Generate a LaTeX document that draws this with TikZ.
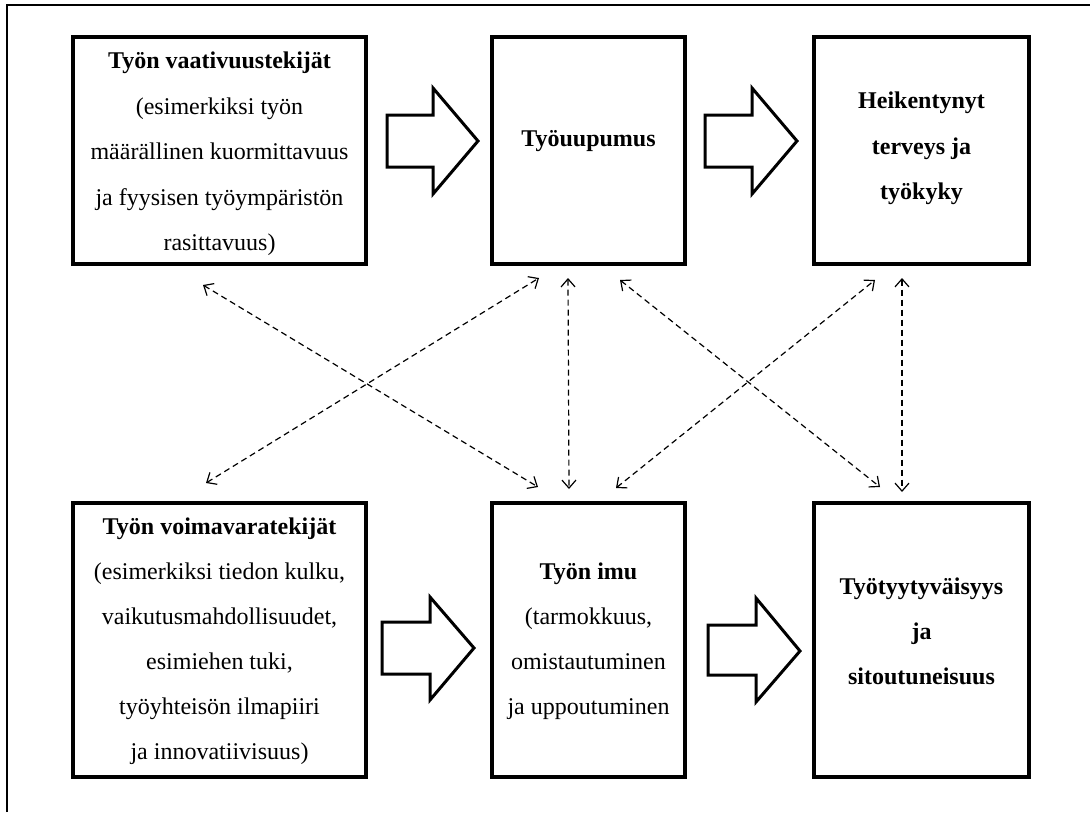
\documentclass[tikz,border=0pt]{standalone}
\usepackage{fontspec}
\setmainfont{Liberation Serif}
\usetikzlibrary{arrows.meta}
\begin{document}
\begin{tikzpicture}[x=1pt,y=-1pt,
  box/.style={draw, line width=4pt, inner sep=0pt, minimum height=227pt},
  lowbox/.style={box, minimum height=274pt},
  txt/.style={inner sep=0pt, align=center, anchor=north, font=\fontsize{24pt}{45.5pt}\selectfont},
  txtb/.style={txt, font=\fontsize{24pt}{45pt}\selectfont},
  bigarrow/.style={draw, line width=3pt, miter limit=20, fill=white},
  link/.style={dash pattern=on 6pt off 4pt, line width=1.2pt,
    {Straight Barb[length=8pt,width=14pt]}-{Straight Barb[length=8pt,width=14pt]}}]
\useasboundingbox (0,0) rectangle (1090,812);
% outer frame (cut off at right and bottom)
\draw[line width=2pt] (7,812) -- (7,5) -- (1090,5);
% boxes
\node[box, minimum width=293pt] (b1) at (219.5,150.5) {};
\node[box, minimum width=193pt] (b2) at (588.5,150.5) {};
\node[box, minimum width=215pt] (b3) at (921.5,150.5) {};
\node[lowbox, minimum width=293pt] (b4) at (219.5,640) {};
\node[lowbox, minimum width=193pt] (b5) at (588.5,640) {};
\node[lowbox, minimum width=215pt] (b6) at (921.5,640) {};
% texts
\node[txt] (t1) at (219.5,52) {\textbf{Työn vaativuustekijät}\\(esimerkiksi työn\\määrällinen kuormittavuus\\ja fyysisen työympäristön\\rasittavuus)};
\node[txt, anchor=center] (t2) at (588.5,141) {\textbf{Työuupumus}};
\node[txt] (t3) at (921.5,92) {\textbf{Heikentynyt}\\\textbf{terveys ja}\\\textbf{työkyky}};
\node[txtb] (t4) at (219.5,518) {\textbf{Työn voimavaratekijät}\\(esimerkiksi tiedon kulku,\\vaikutusmahdollisuudet,\\esimiehen tuki,\\työyhteisön ilmapiiri\\ja innovatiivisuus)};
\node[txtb] (t5) at (588.5,563) {\textbf{Työn imu}\\(tarmokkuus,\\omistautuminen\\ja uppoutuminen};
\node[txtb] (t6) at (921.5,578) {\textbf{Työtyytyväisyys}\\\textbf{ja}\\\textbf{sitoutuneisuus}};
% block arrows
\draw[bigarrow] (387,115) -- (433,115) -- (433,88) -- (478,141) -- (433,194) -- (433,167) -- (387,167) -- cycle;
\draw[bigarrow] (705,115) -- (752,115) -- (752,88) -- (797,141) -- (752,194) -- (752,167) -- (705,167) -- cycle;
\draw[bigarrow] (382,622) -- (430,622) -- (430,597) -- (474,648) -- (430,700) -- (430,674) -- (382,674) -- cycle;
\draw[bigarrow] (708,625) -- (756,625) -- (756,598) -- (800,651) -- (756,702) -- (756,675) -- (708,675) -- cycle;
% dashed link end points
\coordinate (a1) at (203,285);
\coordinate (a2) at (538,487);
\coordinate (c1) at (206,483);
\coordinate (c2) at (539,278);
\coordinate (v1) at (568,278);
\coordinate (v2) at (569,489);
\coordinate (d1) at (620,280);
\coordinate (d2) at (880,487);
\coordinate (e1) at (616,488);
\coordinate (e2) at (875,280);
\coordinate (w1) at (902,278);
\coordinate (w2) at (902,492);
\draw[link] (a1) -- (a2);
\draw[link] (c1) -- (c2);
\draw[link] (v1) -- (v2);
\draw[link] (d1) -- (d2);
\draw[link] (e1) -- (e2);
\draw[link] (w1) -- (w2);
\end{tikzpicture}
\end{document}
